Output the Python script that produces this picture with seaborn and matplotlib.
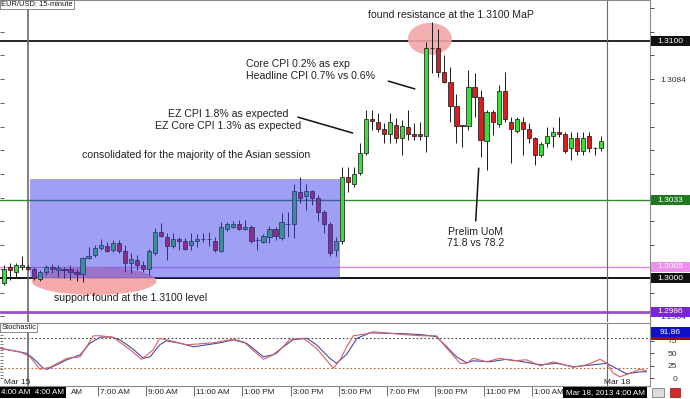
import numpy as np
import pandas as pd
import matplotlib
matplotlib.use("Agg")
import matplotlib.pyplot as plt
import matplotlib.patches as mpatches
import matplotlib.transforms as mtransforms
import seaborn as sns

# ---------------- data ----------------
candle_index = list(range(-4, 96))   # 15-minute bars; index 0 = Mar 15 4:00 AM

open_ = [1.29979, 1.30048, 1.30028, 1.30049, 1.30046, 1.30039, 1.29996, 1.30028, 1.30046, 1.30036,
         1.30041, 1.30038, 1.30028, 1.30018, 1.30084, 1.30098, 1.30126, 1.30136, 1.30119, 1.30148,
         1.30117, 1.30063, 1.30077, 1.30056, 1.30038, 1.30105, 1.30197, 1.30176, 1.30138, 1.30164,
         1.30159, 1.30139, 1.30156, 1.30164, 1.30165, 1.30159, 1.30117, 1.30207, 1.30218, 1.30229,
         1.30208, 1.30218, 1.30162, 1.30155, 1.30176, 1.30207, 1.30169, 1.30229, 1.30228, 1.30365,
         1.30349, 1.30370, 1.30338, 1.30278, 1.30228, 1.30119, 1.30157, 1.30429, 1.30398, 1.30446,
         1.30527, 1.30673, 1.30661, 1.30629, 1.30609, 1.30648, 1.30591, 1.30640, 1.30609, 1.30609,
         1.30600, 1.30973, 1.30973, 1.30872, 1.30830, 1.30727, 1.30645, 1.30643, 1.30808, 1.30764,
         1.30581, 1.30700, 1.30651, 1.30792, 1.30661, 1.30622, 1.30661, 1.30629, 1.30591, 1.30520,
         1.30570, 1.30600, 1.30619, 1.30609, 1.30549, 1.30591, 1.30538, 1.30600, 1.30549, 1.30549]

high = [1.30056, 1.30063, 1.30063, 1.30094, 1.30056, 1.30049, 1.30035, 1.30056, 1.30059, 1.30056,
        1.30049, 1.30056, 1.30038, 1.30091, 1.30133, 1.30141, 1.30164, 1.30155, 1.30162, 1.30162,
        1.30141, 1.30105, 1.30098, 1.30075, 1.30122, 1.30211, 1.30232, 1.30193, 1.30190, 1.30176,
        1.30169, 1.30190, 1.30187, 1.30190, 1.30197, 1.30176, 1.30239, 1.30239, 1.30241, 1.30246,
        1.30246, 1.30225, 1.30176, 1.30187, 1.30221, 1.30218, 1.30274, 1.30281, 1.30400, 1.30429,
        1.30396, 1.30373, 1.30350, 1.30290, 1.30239, 1.30175, 1.30470, 1.30471, 1.30471, 1.30570,
        1.30710, 1.30710, 1.30696, 1.30654, 1.30696, 1.30675, 1.30668, 1.30710, 1.30654, 1.30661,
        1.30998, 1.31083, 1.31050, 1.30942, 1.30893, 1.30778, 1.30647, 1.30879, 1.30865, 1.30795,
        1.30710, 1.30710, 1.30816, 1.30872, 1.30682, 1.30682, 1.30679, 1.30657, 1.30597, 1.30576,
        1.30640, 1.30640, 1.30682, 1.30619, 1.30619, 1.30619, 1.30619, 1.30619, 1.30555, 1.30600]

low = [1.29972, 1.29993, 1.30007, 1.30035, 1.30035, 1.29993, 1.29989, 1.30014, 1.30021, 1.30007,
       1.30000, 1.29993, 1.29990, 1.29986, 1.30080, 1.30089, 1.30119, 1.30112, 1.30112, 1.30105,
       1.30028, 1.30021, 1.30035, 1.30028, 1.30014, 1.30098, 1.30176, 1.30077, 1.30126, 1.30120,
       1.30120, 1.30120, 1.30133, 1.30155, 1.30136, 1.30112, 1.30112, 1.30201, 1.30211, 1.30204,
       1.30204, 1.30148, 1.30119, 1.30148, 1.30148, 1.30162, 1.30162, 1.30176, 1.30169, 1.30316,
       1.30288, 1.30310, 1.30240, 1.30190, 1.30095, 1.30095, 1.30146, 1.30365, 1.30386, 1.30436,
       1.30520, 1.30626, 1.30619, 1.30570, 1.30570, 1.30570, 1.30520, 1.30584, 1.30584, 1.30584,
       1.30534, 1.30865, 1.30850, 1.30823, 1.30661, 1.30570, 1.30555, 1.30626, 1.30682, 1.30513,
       1.30457, 1.30605, 1.30640, 1.30661, 1.30485, 1.30612, 1.30520, 1.30570, 1.30478, 1.30513,
       1.30555, 1.30555, 1.30597, 1.30527, 1.30499, 1.30520, 1.30520, 1.30534, 1.30520, 1.30538]

close = [1.30038, 1.30036, 1.30056, 1.30055, 1.30038, 1.30000, 1.30025, 1.30046, 1.30038, 1.30045,
         1.30035, 1.30027, 1.30018, 1.30084, 1.30095, 1.30126, 1.30139, 1.30117, 1.30148, 1.30117,
         1.30066, 1.30080, 1.30056, 1.30038, 1.30117, 1.30197, 1.30179, 1.30136, 1.30164, 1.30159,
         1.30125, 1.30159, 1.30167, 1.30165, 1.30166, 1.30119, 1.30218, 1.30229, 1.30228, 1.30207,
         1.30218, 1.30156, 1.30161, 1.30179, 1.30208, 1.30179, 1.30236, 1.30228, 1.30370, 1.30338,
         1.30370, 1.30338, 1.30278, 1.30228, 1.30105, 1.30157, 1.30429, 1.30408, 1.30440, 1.30530,
         1.30671, 1.30662, 1.30629, 1.30609, 1.30661, 1.30591, 1.30643, 1.30609, 1.30600, 1.30600,
         1.30973, 1.30970, 1.30872, 1.30830, 1.30727, 1.30643, 1.30643, 1.30808, 1.30764, 1.30584,
         1.30700, 1.30661, 1.30792, 1.30671, 1.30629, 1.30671, 1.30629, 1.30591, 1.30520, 1.30567,
         1.30600, 1.30619, 1.30609, 1.30538, 1.30591, 1.30538, 1.30591, 1.30549, 1.30550, 1.30581]

# Stochastic %K (red) and %D (blue)
k_index = [-4.7, -1.4, 0.3, 1.9, 3.6, 6.4, 8.6, 10.8, 11.9, 14.1, 16.9, 18.8, 20.7, 21.8, 22.9,
           26.3, 30.7, 34.0, 35.7, 39.0, 41.2, 43.4, 45.6, 47.8, 50.6, 51.7, 52.8, 53.9, 56.1,
           57.2, 60.0, 62.7, 65.5, 67.7, 69.4, 71.6, 72.7, 73.8, 76.0, 78.2, 80.4, 82.6, 84.9,
           87.1, 90.4, 92.6, 94.8, 95.9, 97.0, 98.1, 99.8, 101.4, 102.5]
k_value = [60, 53, 43, 18, 22, 40, 43, 85, 85, 82, 57, 38, 57, 80, 77,
           67, 71, 78, 73, 38, 50, 78, 80, 60, 20, 37, 63, 85, 89,
           93, 90, 87, 85, 85, 60, 30, 30, 40, 33, 40, 35, 37, 25,
           33, 22, 27, 38, 31, 10, 3, 10, 18, 15]
d_index = [-4.7, -2.5, -0.3, 0.8, 2.5, 3.1, 4.7, 6.4, 8.6, 10.2, 11.9, 13.5, 15.2, 17.4, 19.1,
           20.2, 21.8, 22.9, 25.2, 27.4, 29.6, 31.8, 34.0, 36.2, 39.0, 40.6, 42.3, 43.9, 46.2,
           47.8, 50.0, 51.1, 52.8, 54.5, 56.7, 59.4, 62.7, 65.5, 67.7, 69.4, 71.0, 72.7, 73.8,
           76.5, 79.3, 82.1, 84.9, 87.6, 90.4, 93.7, 95.9, 97.5, 99.2, 101.4, 102.5]
d_value = [60, 55, 50, 40, 20, 18, 27, 37, 47, 70, 82, 83, 77, 58, 40,
           43, 67, 75, 70, 63, 67, 71, 77, 70, 43, 47, 63, 77, 80,
           67, 40, 30, 48, 80, 91, 90, 89, 87, 83, 63, 43, 31, 35,
           33, 38, 33, 27, 30, 23, 27, 30, 20, 9, 13, 13]

time_tick_index = [4, 12, 20, 28, 36, 44, 52, 60, 68, 76, 84]
time_labels = ["5:00 AM", "7:00 AM", "9:00 AM", "11:00 AM", "1:00 PM", "3:00 PM",
               "5:00 PM", "7:00 PM", "9:00 PM", "11:00 PM", "1:00 AM"]

level_prices = [1.3100, 1.3033, 1.3005, 1.3000, 1.2986]
level_labels = ["1.3100", "1.3033", "1.3005", "1.3000", "1.2986"]
level_colors = ["#000000", "#2e8b2e", "#e487e4", "#000000", "#9a4fc8"]
tag_colors = ["#111111", "#1f7a1f", "#f08ef0", "#111111", "#7a22e8"]
level_widths = [1.2, 1.0, 1.0, 1.3, 2.0]

asian_start, asian_end = 0.28, 51.7
asian_low, asian_high = 1.3000, 1.30418
stoch_tag_value = 91.86
day_breaks = [0, 96]

# ---------------- styling ----------------
sns.set_theme(style="white")
plt.rcParams["font.family"] = ["Liberation Sans", "DejaVu Sans"]

W, H = 690, 399
def fx(px):
    return px / W
def fy(py):
    return 1 - py / H

fig = plt.figure(figsize=(6.9, 3.99), dpi=100)
fig.patch.set_facecolor("white")
ax = fig.add_axes([0, fy(322), fx(650), 322 / H])
ax_s = fig.add_axes([0, fy(386), fx(650), (386 - 323.3) / H])

XLIM = (-4.69, 103.1)
YLIM = (1.29816, 1.31174)
SLIM = (-15.4, 110)
ax.set_xlim(*XLIM)
ax.set_ylim(*YLIM)
ax_s.set_xlim(*XLIM)
ax_s.set_ylim(*SLIM)

for a in (ax, ax_s):
    a.set_facecolor("white")
    for s in a.spines.values():
        s.set_color("#8a8a8a")
        s.set_linewidth(0.8)
    a.spines["left"].set_visible(False)
ax.spines["bottom"].set_visible(False)

# horizontal levels
for p, c, lw in zip(level_prices, level_colors, level_widths):
    ax.axhline(p, color=c, lw=lw, zorder=2)

for d in day_breaks:
    ax.axvline(d, color="#6a6a6a", lw=1.2 if d == 0 else 0.8, zorder=2.2)
    ax_s.axvline(d, color="#6a6a6a", lw=1.2 if d == 0 else 0.8, zorder=2.2)

# ellipses
ax.add_patch(mpatches.Ellipse((10.9, 1.29989), 20.7, 0.00118, facecolor="#f4a0a0",
                              edgecolor="none", alpha=0.9, zorder=2.4))
ax.add_patch(mpatches.Ellipse((66.6, 1.31010), 7.3, 0.00135, facecolor="#f2a6a6",
                              edgecolor="none", alpha=0.9, zorder=2.4))

# candles
df = pd.DataFrame(dict(i=candle_index, o=open_, h=high, l=low, c=close))
up = (df.c >= df.o).values
ax.vlines(df.i, df.l, df.h, color="#1a1a1a", lw=0.7, zorder=3)
ax.bar(df.i, (df.c - df.o).abs(), bottom=np.minimum(df.o, df.c), width=0.7,
       color=np.where(up, "#3ddc3d", "#d42020"), edgecolor="#111111", linewidth=0.5, zorder=4)

# Asian-session box (translucent overlay)
ax.add_patch(mpatches.Rectangle((asian_start, asian_low), asian_end - asian_start,
                                asian_high - asian_low, facecolor="#4040e8", alpha=0.5,
                                lw=0, zorder=5))

# annotations
tk = dict(fontsize=7.6, color="#222222", zorder=7)
ax.text(70.1, 1.31111, "found resistance at the 1.3100 MaP", ha="center", va="center", **tk)
ax.text(36.1, 1.30877, "Core CPI 0.2% as exp\nHeadline CPI 0.7% vs 0.6%", ha="left",
        va="center", linespacing=1.25, **tk)
ax.text(33.1, 1.30668, "EZ CPI 1.8% as expected\nEZ Core CPI 1.3% as expected", ha="center",
        va="center", multialignment="center", linespacing=1.25, **tk)
ax.text(27.8, 1.30520, "consolidated for the majority of the Asian session", ha="center",
        va="center", **tk)
ax.text(17.0, 1.29917, "support found at the 1.3100 level", ha="center", va="center", **tk)
ax.text(74.2, 1.30172, "Prelim UoM\n71.8 vs 78.2", ha="center", va="center",
        multialignment="center", linespacing=1.2, **tk)
ax.plot([59.7, 64.1], [1.30832, 1.30799], color="#111111", lw=1.1, zorder=7)
ax.plot([44.7, 53.8], [1.30680, 1.30613], color="#111111", lw=1.1, zorder=7)
ax.plot([74.2, 74.7], [1.30242, 1.30465], color="#111111", lw=1.1, zorder=7)

ax.text(0.002, 0.997, "EUR/USD: 15-minute", transform=ax.transAxes, ha="left", va="top",
        fontsize=5.4, color="#111111", zorder=8,
        bbox=dict(boxstyle="square,pad=0.15", fc="white", ec="#777777", lw=0.6))

# ticks on main panel
minor_prices = [round(1.2984 + 0.0010 * k, 4) for k in range(14)]
ax.set_yticks(minor_prices)
ax.tick_params(axis="y", left=True, right=False, direction="in", length=3, width=0.6,
               color="#444444", labelleft=False)
ax.tick_params(axis="x", bottom=False, labelbottom=False)

ax_r = ax.twinx()
ax_r.set_ylim(*YLIM)
ax_r.set_yticks([1.2984, 1.3084])
ax_r.set_yticklabels(["1.2984", "1.3084"])
ax_r.set_yticks(minor_prices, minor=True)
ax_r.tick_params(axis="y", which="both", direction="out", length=3, width=0.6,
                 colors="#333333", labelsize=6, pad=4.5)
for s in ax_r.spines.values():
    s.set_visible(False)

tag_tf = mtransforms.blended_transform_factory(fig.transFigure, ax_r.transData)
tag_h = (YLIM[1] - YLIM[0]) / 322 * 10
for p, lab, fc in zip(level_prices, level_labels, tag_colors):
    ax_r.add_patch(mpatches.Rectangle((fx(650.5), p - tag_h / 2), fx(39.5), tag_h,
                                      transform=tag_tf, facecolor=fc, edgecolor="none",
                                      clip_on=False, zorder=10))
    ax_r.text(fx(670), p, lab, transform=tag_tf, ha="center", va="center", color="white",
              fontsize=6, clip_on=False, zorder=11)

# ---------------- stochastic panel ----------------
ax_s.axhline(80, color="#444444", lw=0.8, ls=(0, (1.5, 2)), zorder=2)
ax_s.axhline(20, color="#b0603a", lw=0.8, ls=(0, (1.5, 2)), zorder=2)
sns.lineplot(x=d_index, y=d_value, ax=ax_s, color="#4a4aa8", lw=0.8, zorder=3)
sns.lineplot(x=k_index, y=k_value, ax=ax_s, color="#d86060", lw=0.8, zorder=4)
ax_s.set_xlabel("")
ax_s.set_ylabel("")
ax_s.set_xlim(*XLIM)
ax_s.set_ylim(*SLIM)

ax_s.set_yticks(np.arange(0, 101, 6.25))
ax_s.tick_params(axis="y", left=True, direction="in", length=2.5, width=0.5,
                 color="#444444", labelleft=False)
ax_s.set_xticks([t - 0.5 for t in time_tick_index])
ax_s.tick_params(axis="x", bottom=True, direction="out", length=7.5, width=0.6,
                 color="#555555", labelbottom=False)

ax_s.text(0.002, 0.985, "Stochastic", transform=ax_s.transAxes, ha="left", va="top",
          fontsize=5.4, color="#111111", zorder=8,
          bbox=dict(boxstyle="square,pad=0.15", fc="white", ec="#777777", lw=0.6))
ax_s.text(0.3, -7.4, "Mar 15", ha="right", va="center", fontsize=6, color="#222222")
ax_s.text(95.4, -7.4, "Mar 18", ha="left", va="center", fontsize=6, color="#222222")

ax_sr = ax_s.twinx()
ax_sr.set_ylim(*SLIM)
ax_sr.set_yticks([0, 25, 50, 75])
ax_sr.set_yticklabels(["0", "25", "50", "75"])
ax_sr.tick_params(axis="y", direction="out", length=3, width=0.6, colors="#333333",
                  labelsize=6, pad=16.5)
for t in ax_sr.get_yticklabels():
    t.set_horizontalalignment("right")
for s in ax_sr.spines.values():
    s.set_visible(False)
stf = mtransforms.blended_transform_factory(fig.transFigure, ax_sr.transData)
sh = (SLIM[1] - SLIM[0]) / 62.7 * 10
ax_sr.add_patch(mpatches.Rectangle((fx(650.5), 87 - sh / 2), fx(39.5), sh, transform=stf,
                                   facecolor="#7a1a1a", edgecolor="none", clip_on=False,
                                   zorder=9))
ax_sr.add_patch(mpatches.Rectangle((fx(650.5), stoch_tag_value - sh / 2), fx(39.5), sh,
                                   transform=stf, facecolor="#1010c8", edgecolor="none",
                                   clip_on=False, zorder=10))
ax_sr.text(fx(670), stoch_tag_value, f"{stoch_tag_value:.2f}", transform=stf, ha="center",
           va="center", color="white", fontsize=6, clip_on=False, zorder=11)

# time labels
xtf = mtransforms.blended_transform_factory(ax_s.transData, fig.transFigure)
for t, lab in zip(time_tick_index, time_labels):
    txt = lab if t != time_tick_index[0] else "AM"
    xpos = t - 0.5 + 0.35 if t != time_tick_index[0] else t - 0.5 + 3.5
    ax_s.text(xpos, fy(392.5), txt, transform=xtf, ha="left", va="center",
              fontsize=5.9, color="#222222", clip_on=False, zorder=5)

box = dict(boxstyle="square,pad=0.3", fc="black", ec="none")
fig.text(fx(1), fy(392.5), "4:00 AM  4:00 AM", ha="left", va="center", color="white",
         fontsize=5.8, bbox=box, zorder=20)
fig.text(fx(605), fy(392.5), "Mar 18, 2013 4:00 AM", ha="center", va="center",
         color="white", fontsize=5.8, bbox=box, zorder=20)
fig.add_artist(mpatches.Rectangle((fx(652), fy(397)), fx(12), 9 / H, transform=fig.transFigure,
                                  facecolor="#dcdcdc", edgecolor="#666666", lw=0.5))
fig.add_artist(mpatches.Rectangle((fx(670), fy(397)), fx(10), 9 / H, transform=fig.transFigure,
                                  facecolor="#d42a2a", edgecolor="#8a1010", lw=0.5))

fig.savefig("out.png", dpi=100)
